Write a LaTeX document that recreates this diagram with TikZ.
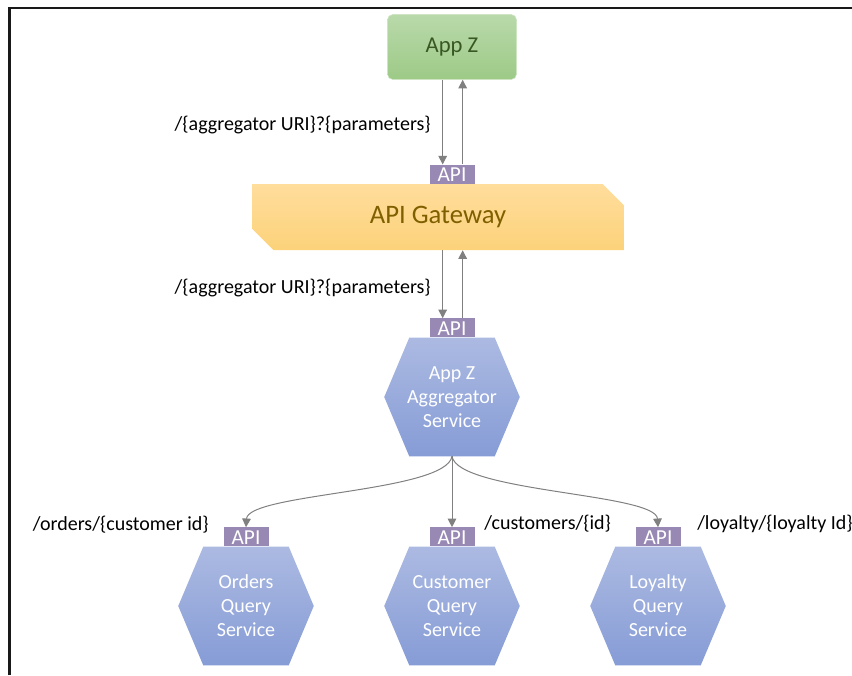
\documentclass[tikz,border=0pt]{standalone}
\usepackage{fontspec}
\setmainfont{Carlito}
\usetikzlibrary{arrows.meta,positioning,shapes.misc,backgrounds}

\definecolor{apipurple}{RGB}{152,137,180}
\definecolor{linegray}{RGB}{128,128,128}
\definecolor{gwtext}{RGB}{127,96,0}
\definecolor{apptext}{RGB}{56,87,35}
\definecolor{apptop}{RGB}{185,217,170}
\definecolor{appbot}{RGB}{157,202,135}
\definecolor{gwtop}{RGB}{255,221,156}
\definecolor{gwbot}{RGB}{252,210,122}
\definecolor{hextop}{RGB}{172,186,226}
\definecolor{hexbot}{RGB}{134,156,214}

\begin{document}
\begin{tikzpicture}[
  x=0.75pt, y=-0.75pt,
  app/.style={rectangle, rounded corners=4pt, draw=apptop!70!white, thin,
              minimum width=96.75pt, minimum height=48.75pt,
              top color=apptop, bottom color=appbot, text=apptext,
              font=\fontsize{17}{20}\selectfont},
  gate/.style={chamfered rectangle, chamfered rectangle corners={north east,south west},
               chamfered rectangle xsep=8pt, chamfered rectangle ysep=8pt,
               minimum width=279pt, minimum height=49.5pt, inner sep=0pt,
               top color=gwtop, bottom color=gwbot, text=gwtext,
               font=\fontsize{20}{24}\selectfont},
  hexa/.style={rectangle, minimum width=101.25pt, minimum height=88.5pt, inner sep=0pt,
               text=white, align=center, font=\fontsize{15}{18}\selectfont},
  hexfill/.style={top color=hextop, bottom color=hexbot},
  api/.style={rectangle, fill=apipurple, inner sep=0pt, minimum width=33.75pt,
              text height=12.75pt, text depth=1.5pt, text=white,
              font=\fontsize{16}{16}\selectfont},
  uri/.style={inner sep=0pt, font=\fontsize{15}{18}\selectfont},
  arrow/.style={-{Triangle[length=6.5pt,width=6.5pt]}, draw=linegray, line width=0.75pt}
]
\useasboundingbox (0,0) rectangle (852,675);
\draw[line width=1.9pt, black!90] (9.5,675) |- (852,8);

\node[app] (appz) at (452,47) {App Z};
\node[gate] (gateway) at (438,217) {API Gateway};
\node[api, anchor=south] (apigw) at (452,184) {API};

\node[hexa] (agg) at (452,397) {App Z\\Aggregator\\Service};
\node[api, above=0pt of agg] (apiagg) {API};

\node[hexa] (orders) at (246,606) {Orders\\Query\\Service};
\node[hexa] (customer) at (452,606) {Customer\\Query\\Service};
\node[hexa] (loyalty) at (658,606) {Loyalty\\Query\\Service};
\node[api, above=0pt of orders] (apiord) {API};
\node[api, above=0pt of customer] (apicus) {API};
\node[api, above=0pt of loyalty] (apiloy) {API};

% hexagon bodies behind the service texts
\begin{scope}[on background layer]
\foreach \h in {agg,orders,customer,loyalty}
  \shade[hexfill] (\h.west) -- ([xshift=18.75pt]\h.north west) -- ([xshift=-18.75pt]\h.north east)
    -- (\h.east) -- ([xshift=-18.75pt]\h.south east) -- ([xshift=18.75pt]\h.south west) -- cycle;
\end{scope}

\node[uri, anchor=east] (uri1) at (431,125) {/\{aggregator URI\}?\{parameters\}};
\node[uri, anchor=east] (uri2) at (431,288) {/\{aggregator URI\}?\{parameters\}};
\node[uri, anchor=east] (ordlbl) at (209,525) {/orders/\{customer id\}};
\node[uri, anchor=west] (cuslbl) at (484,524) {/customers/\{id\}};
\node[uri, anchor=west] (loylbl) at (697,524) {/loyalty/\{loyalty Id\}};

% request / response pairs
\draw[arrow] ([xshift=-7pt]appz.south) -- ([xshift=-7pt]apigw.north);
\draw[arrow] ([xshift=8pt]apigw.north) -- ([xshift=8pt]apigw.north |- appz.south);
\draw[arrow] ([xshift=-7pt]apiagg.north |- gateway.south) -- ([xshift=-7pt]apiagg.north);
\draw[arrow] ([xshift=8pt]apiagg.north) -- ([xshift=8pt]apiagg.north |- gateway.south);

% fan-out to query services
\draw[arrow] (agg.south) .. controls +(-6,36) and +(2,-34) .. (apiord.north);
\draw[arrow] (agg.south) -- (apicus.north);
\draw[arrow] (agg.south) .. controls +(6,36) and +(-2,-34) .. (apiloy.north);
\end{tikzpicture}
\end{document}
